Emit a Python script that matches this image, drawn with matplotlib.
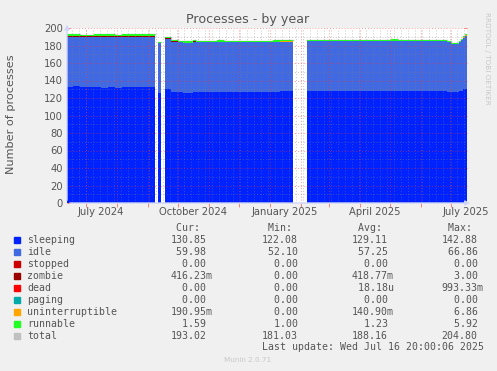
import numpy as np
import matplotlib
matplotlib.use("Agg")
import matplotlib.pyplot as plt
import matplotlib.dates as mdates
from matplotlib.patches import Rectangle
from datetime import datetime, timedelta

W, H = 497, 371

# segment edges (each value below holds from edge k to edge k+1)
edges = [
    "2024-06-11 20:00", "2024-06-18", "2024-06-25", "2024-07-02", "2024-07-09",
    "2024-07-16", "2024-07-23", "2024-07-30", "2024-08-06", "2024-08-13",
    "2024-08-20", "2024-08-27", "2024-09-03", "2024-09-08", "2024-09-11",
    "2024-09-14", "2024-09-18", "2024-09-24", "2024-10-01", "2024-10-06",
    "2024-10-16", "2024-10-19", "2024-10-26", "2024-11-02", "2024-11-09",
    "2024-11-16", "2024-11-23", "2024-11-30", "2024-12-07", "2024-12-14",
    "2024-12-21", "2024-12-28", "2025-01-04", "2025-01-11", "2025-01-18",
    "2025-01-24", "2025-02-07", "2025-02-14", "2025-02-21", "2025-02-28",
    "2025-03-07", "2025-03-14", "2025-03-21", "2025-03-28", "2025-04-04",
    "2025-04-11", "2025-04-18", "2025-04-25", "2025-05-02", "2025-05-09",
    "2025-05-16", "2025-05-23", "2025-05-30", "2025-06-06", "2025-06-13",
    "2025-06-20", "2025-06-27", "2025-07-01", "2025-07-09", "2025-07-11",
    "2025-07-13", "2025-07-15", "2025-07-16 20:00",
]
nan = np.nan
sleeping = [133.0, 133.4, 132.9, 132.6, 132.3, 132.0, 132.1, 131.9, 132.2, 132.7,
            132.9, 133.1, 132.9, nan, 126.0, nan, 130.2, 127.4, 126.8, 126.2,
            126.9, 126.4, 126.5, 126.3, 126.6, 126.4, 126.5, 126.7, 126.5, 126.6,
            126.4, 126.8, 127.2, 127.6, 127.8, nan, 127.6, 127.8, 128.0, 128.1,
            127.9, 128.0, 128.2, 128.0, 127.9, 128.1, 128.0, 128.2, 128.1, 128.0,
            127.9, 128.1, 128.0, 128.2, 128.0, 127.8, 127.4, 127.0, 127.6, 128.5,
            129.8, 130.85]
idle = [56.6, 56.4, 56.9, 57.0, 57.3, 57.6, 57.5, 57.7, 57.4, 57.0,
        56.8, 56.6, 56.8, nan, 57.0, nan, 56.8, 57.0, 57.4, 56.9,
        57.6, 57.6, 57.5, 57.7, 57.4, 57.6, 57.5, 57.3, 57.5, 57.4,
        57.7, 57.3, 57.1, 56.8, 56.6, nan, 57.2, 57.0, 56.9, 56.8,
        57.0, 56.9, 56.8, 57.0, 57.1, 56.9, 57.0, 56.8, 56.9, 57.0,
        57.1, 56.9, 57.0, 56.8, 57.0, 57.1, 56.2, 54.3, 55.9, 57.8,
        59.0, 59.98]
zombie = [0.9, 1.2, 1.4, 1.3, 1.0, 1.1, 0.9, 1.0, 1.0, 1.2,
          1.4, 1.1, 1.5, nan, 0.1, nan, 1.6, 0.2, 0.1, 0.1,
          0.3, 0.1, 0.1, 0.3, 0.1, 0.1, 0.1, 0.1, 0.1, 0.1,
          0.1, 0.1, 0.1, 0.1, 0.1, nan, 0.2, 0.1, 0.1, 0.1,
          0.1, 0.1, 0.1, 0.1, 0.1, 0.1, 0.1, 0.1, 0.1, 0.1,
          0.1, 0.1, 0.1, 0.1, 0.1, 0.1, 0.1, 0.1, 0.1, 0.2,
          0.3, 0.42]
uninterruptible = [0.1] * 13 + [nan, 0.1, nan] + [0.1] * 4 + [0.2] + [0.1] * 14 + [nan] \
    + [0.1] * 5 + [0.4] + [0.1] * 6 + [0.5] + [0.1] * 11 + [0.2, 0.19]
runnable = [2.2, 1.6, 1.0, 1.5, 2.1, 1.9, 2.2, 1.8, 2.0, 1.7,
            1.5, 2.4, 1.8, nan, 1.3, nan, 1.0, 1.4, 1.3, 1.4,
            1.7, 1.3, 1.2, 1.3, 1.6, 1.2, 1.3, 1.2, 1.4, 1.3,
            1.2, 1.3, 1.3, 1.2, 1.3, nan, 1.5, 1.3, 1.2, 1.3,
            1.4, 1.2, 1.3, 1.5, 1.6, 1.3, 1.2, 1.3, 1.4, 1.3,
            1.2, 1.4, 1.3, 1.2, 1.3, 1.2, 1.2, 1.0, 1.3, 1.4,
            1.5, 1.59]

names = ["sleeping", "idle", "stopped", "zombie", "dead", "paging",
         "uninterruptible", "runnable", "total"]
colors = ["#0022ff", "#4169e1", "#cc0000", "#990000", "#ff0000", "#00aaaa",
          "#ffa500", "#22ff22", "#c0c0c0"]
cur = ["130.85", " 59.98", "  0.00", "416.23m", "  0.00", "  0.00", "190.95m", "  1.59", "193.02"]
vmin = ["122.08", " 52.10", "  0.00", "  0.00", "  0.00", "  0.00", "  0.00", "  1.00", "181.03"]
avg = ["129.11", " 57.25", "  0.00", "418.77m", " 18.18u", "  0.00", "140.90m", "  1.23", "188.16"]
vmax = ["142.88", " 66.86", "  0.00", "  3.00", "993.33m", "  0.00", "  6.86", "  5.92", "204.80"]

tick_labels = ["July 2024", "October 2024", "January 2025", "April 2025", "July 2025"]
tick_dates = ["2024-07-16", "2024-10-16", "2025-01-16", "2025-04-16", "2025-07-16"]

FONT = "#555555"

def fx(x):
    return x / W

def fy(y):
    return 1 - y / H

x_edges = mdates.date2num([datetime.fromisoformat(d) for d in edges])
xs = np.repeat(x_edges, 2)[1:-1]

def steps(v):
    return np.ma.masked_invalid(np.repeat(np.array(v, dtype=float), 2))

zeros = [0.0 if not np.isnan(s) else nan for s in sleeping]
series = [sleeping, idle, zeros, zombie, zeros, zeros, uninterruptible, runnable]

fig = plt.figure(figsize=(W / 100, H / 100), dpi=100, facecolor="#f0f0f0")
ax = fig.add_axes([fx(67), fy(203), 400 / W, 175 / H])
ax.set_facecolor("white")

# total sits just under the stacked areas so the runnable band stays visible
bottom = np.zeros(len(sleeping))
for vals in series:
    bottom = bottom + np.array(vals, dtype=float)
ax.plot(xs, steps(bottom), color=colors[8], lw=1.0, zorder=1.5)

bottom = np.zeros(len(sleeping))
for vals, c in zip(series, colors[:8]):
    top = bottom + np.array(vals, dtype=float)
    ax.fill_between(xs, steps(bottom), steps(top), color=c, lw=0, zorder=2)
    bottom = top

x0 = mdates.date2num(datetime.fromisoformat(edges[0]))
x1 = mdates.date2num(datetime.fromisoformat(edges[-1]))
ax.set_xlim(x0, x1)
ax.set_ylim(0, 200)

# grid drawn on top of the areas, rrdtool style
dot = (0, (1, 2))
for wk in mdates.drange(datetime(2024, 6, 17), datetime(2025, 7, 17), timedelta(days=7)):
    ax.axvline(wk, color="#808080", alpha=0.45, lw=0.7, ls=dot, zorder=3)
for v in range(10, 200, 20):
    ax.axhline(v, color="#808080", alpha=0.45, lw=0.7, ls=dot, zorder=3)
for v in range(20, 201, 20):
    ax.axhline(v, color="#ff3030", alpha=0.5, lw=0.7, ls=dot, zorder=3)
months = [datetime(2024 + (6 + k) // 12, (6 + k) % 12 + 1, 1) for k in range(13)]
for m in months:
    ax.axvline(mdates.date2num(m), color="#ff3030", alpha=0.5, lw=0.7, ls=dot, zorder=3)

for s in ax.spines.values():
    s.set_visible(False)
ax.set_xticks(mdates.date2num(months))
ax.set_xticklabels([])
ax.tick_params(axis="x", length=3, color="#ff8080", direction="out", width=0.7)
ax.set_yticks(range(0, 201, 20))
ax.tick_params(axis="y", length=2, color="#ff8080", direction="in", width=0.7,
               right=True, labelsize=7.2, labelcolor=FONT, pad=3)
for lbl, d in zip(tick_labels, tick_dates):
    ax.text(mdates.date2num(datetime.fromisoformat(d)), -0.049, lbl,
            transform=ax.get_xaxis_transform(), ha="center", va="center",
            fontsize=7.2, color=FONT)

# axis lines with arrows
ax.annotate("", xy=(1.015, 0), xytext=(0, 0), xycoords="axes fraction",
            arrowprops=dict(arrowstyle="-|>", color="#cfd6f8", lw=1, mutation_scale=7))
ax.annotate("", xy=(0, 1.035), xytext=(0, 0), xycoords="axes fraction",
            arrowprops=dict(arrowstyle="-|>", color="#cfd6f8", lw=1, mutation_scale=7))

fig.text(fx(248), fy(19), "Processes - by year", ha="center", va="center",
         fontsize=9.1, color=FONT)
fig.text(fx(11), fy(114.5), "Number of processes", rotation=90, ha="center",
         va="center", fontsize=8.1, color=FONT)
fig.text(fx(487), fy(12), "RRDTOOL / TOBI OETIKER", rotation=270, ha="center",
         va="top", fontsize=5.2, color="#c8c8c8")

mono = dict(family="DejaVu Sans Mono", fontsize=7.1, color=FONT, va="center")
cols = [170.3, 261.7, 351.7, 441.7]
for x, h in zip(cols, [" Cur:", " Min:", " Avg:", " Max:"]):
    fig.text(fx(x), fy(228), h, **mono)
for k, name in enumerate(names):
    y = 240 + 11.95 * k
    fig.patches.append(Rectangle((fx(14), fy(y + 3)), 6 / W, 6 / H,
                                 transform=fig.transFigure, color=colors[k]))
    fig.text(fx(27), fy(y), name, **mono)
    for x, col in zip(cols, [cur, vmin, avg, vmax]):
        fig.text(fx(x), fy(y), col[k], **mono)
fig.text(fx(261.7), fy(347), "Last update: Wed Jul 16 20:00:06 2025", **mono)
fig.text(fx(248), fy(360), "Munin 2.0.71", ha="center", va="center",
         fontsize=5.2, color="#c8c8c8")

fig.savefig("out.png", dpi=100, facecolor=fig.get_facecolor())
